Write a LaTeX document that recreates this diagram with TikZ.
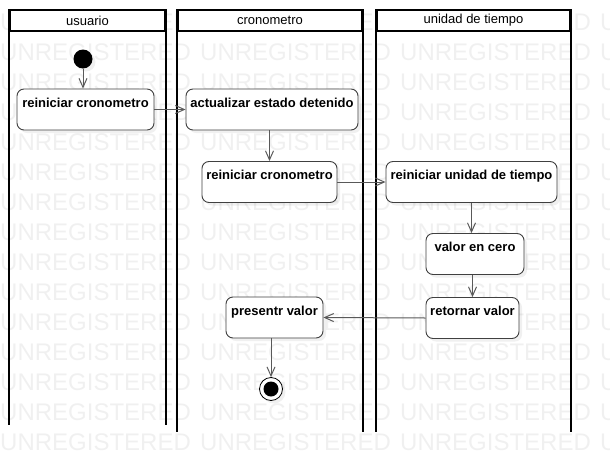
\documentclass[tikz,border=0pt]{standalone}
\usepackage{fontspec}
\setmainfont{Liberation Sans}
\usetikzlibrary{arrows.meta,shadows}

\begin{document}
\begin{tikzpicture}[
    x=1pt, y=-1pt,
    wmark/.style={text=black!6, font=\fontsize{24}{26}\selectfont, inner sep=0pt, anchor=base west},
    lanehead/.style={rectangle, draw, line width=1.6pt, fill=white, minimum height=21pt, inner sep=0pt, font=\fontsize{13}{15}\selectfont},
    lanebd/.style={line width=1.6pt},
    act/.style={rectangle, draw=black!75, line width=0.9pt, fill=white, rounded corners=7pt, inner xsep=3pt, inner ysep=6pt, text height=12pt, text depth=17pt, font=\bfseries\fontsize{13}{15}\selectfont, drop shadow={shadow xshift=3pt, shadow yshift=-3pt, opacity=0.12}},
    initial/.style={circle, fill=black, minimum size=19pt, inner sep=0pt, drop shadow={shadow xshift=3pt, shadow yshift=-3pt, opacity=0.12}},
    final/.style={circle, draw, line width=0.8pt, fill=white, minimum size=23pt, inner sep=0pt, drop shadow={shadow xshift=3pt, shadow yshift=-3pt, opacity=0.12}},
    arr/.style={draw=black!65, line width=1pt, -{Straight Barb[length=9pt,width=8pt]}}
]
\useasboundingbox (0,0) rectangle (610,474);

% Watermark
\begin{scope}
\clip (0,0) rectangle (610,474);
\foreach \r in {0,...,14}
  \foreach \c in {0,...,3}
    \node[wmark] at (\c*200, 30+\r*30) {UNREGISTERED};
\end{scope}

% Swimlanes
\node[lanehead, minimum width=155pt] (usuario) at (87.5,20.5) {usuario};
\node[lanehead, minimum width=184pt] (crono) at (270,20.5) {cronometro};
\node[lanehead, minimum width=193pt] (unidad) at (473.5,20.5) {unidad de tiempo};
\draw[lanebd] (usuario.north west) -- ++(0,416);
\draw[lanebd] (usuario.north east) -- ++(0,416);
\draw[lanebd] (crono.north west) -- ++(0,423);
\draw[lanebd] (crono.north east) -- ++(0,423);
\draw[lanebd] (unidad.north west) -- ++(0,423);
\draw[lanebd] (unidad.north east) -- ++(0,423);

% usuario
\node[initial] (start) at (83,59) {};
\node[act, minimum width=137pt] (reiniciar) at (85.5,109.5) {reiniciar cronometro};

% cronometro
\node[act, minimum width=172pt] (actualizar) at (272,109.5) {actualizar estado detenido};
\node[act, minimum width=135pt] (reiniciarcr) at (269.5,182) {reiniciar cronometro};
\node[act, minimum width=97pt] (presentar) at (274.5,317.5) {presentr valor};
\node[final] (stop) at (271,389) {};
\fill (stop.center) circle (7.5pt);

% unidad de tiempo
\node[act, minimum width=171pt] (reiniciarut) at (471.5,182) {reiniciar unidad de tiempo};
\node[act, minimum width=98pt] (cero) at (475,254) {valor en cero};
\node[act, minimum width=93pt] (retornar) at (472.5,318) {retornar valor};

% Flujo
\draw[arr] (start) -- (start |- reiniciar.north);
\draw[arr] (reiniciar.east) -- (actualizar.west);
\draw[arr] (actualizar.south -| reiniciarcr.north) -- (reiniciarcr.north);
\draw[arr] (reiniciarcr.east) -- (reiniciarut.west);
\draw[arr] (reiniciarut.south) -- (reiniciarut.south |- cero.north);
\draw[arr] (retornar.north |- cero.south) -- (retornar.north);
\draw[arr] (retornar.west) -- (presentar.east);
\draw[arr] (stop |- presentar.south) -- (stop);

\end{tikzpicture}
\end{document}
